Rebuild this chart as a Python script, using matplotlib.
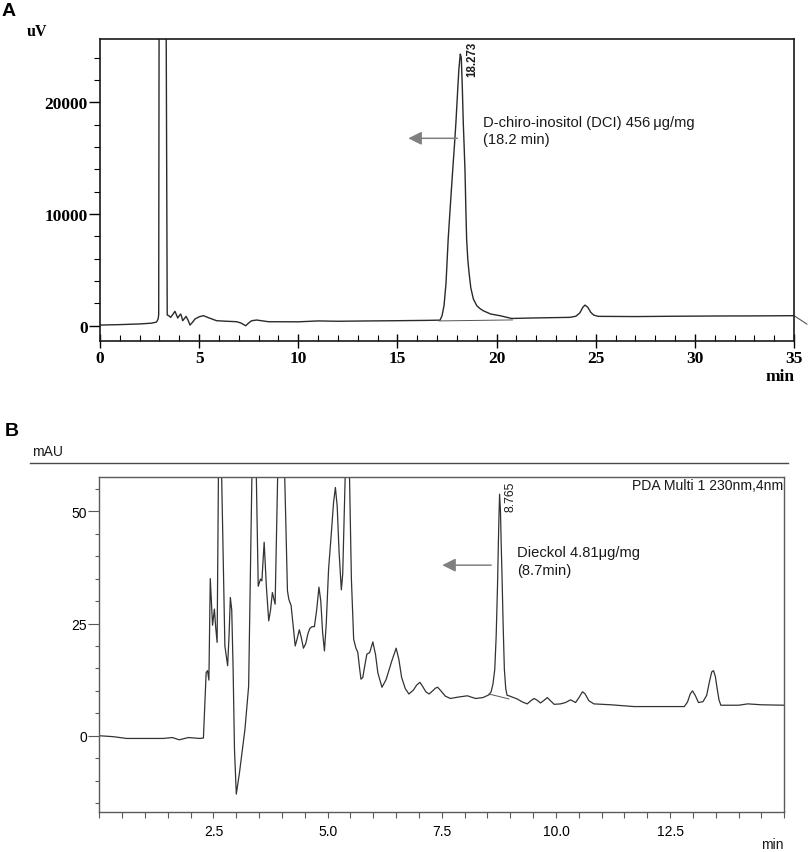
import matplotlib
matplotlib.use("Agg")
import matplotlib.pyplot as plt
from matplotlib.ticker import MultipleLocator

# ---------------- Panel A data (time in min, signal in uV) ----------------
a_time = [0.0, 1.0, 2.0, 2.6, 2.85, 2.93, 2.96, 2.99, 3.31, 3.39, 3.47, 3.56,
          3.67, 3.78, 3.85, 3.92, 4.0, 4.07, 4.12, 4.17, 4.26, 4.34, 4.44,
          4.54, 4.66, 4.79, 5.0, 5.21, 5.5, 5.88, 6.4, 6.89, 7.1, 7.35,
          7.5, 7.65, 7.90, 8.49, 10.0, 11.0, 12.0, 13.0, 15.0, 16.5, 17.15,
          17.25, 17.35, 17.45, 17.56, 17.67, 17.78, 17.87, 17.95, 18.03,
          18.10, 18.17, 18.22, 18.27, 18.32, 18.37, 18.41, 18.45, 18.49,
          18.55, 18.61, 18.70, 18.83, 19.0, 19.15, 19.33, 19.7, 20.17, 20.76,
          22.0, 23.7, 24.0, 24.2, 24.35, 24.46, 24.6, 24.75, 24.9, 25.13,
          27.0, 29.0, 31.0, 33.0, 35.0]
a_signal = [60, 100, 160, 230, 330, 600, 1000, 40000, 40000, 960, 900, 750,
            1000, 1290, 1000, 690, 900, 1050, 800, 450, 650, 840, 500,
            60, 300, 600, 800, 900, 700, 450, 400, 360, 250, 0,
            250, 450, 510, 360, 350, 430, 400, 420, 450, 480, 500,
            900, 1800, 3800, 7760, 10800, 13730, 16000, 18200, 20800,
            23000, 24320, 24000, 21500, 18200, 15800, 13730, 10500, 7760,
            5900, 4780, 3400, 2390, 1800, 1550, 1340, 1050, 900, 650,
            700, 750, 850, 1150, 1650, 1850, 1650, 1200, 950, 840,
            820, 850, 870, 880, 900]
a_tail_time = [35.0, 35.65]
a_tail_signal = [900, 150]
a_base_time = [17.1, 20.8]
a_base_signal = [430, 520]
a_xticks = [0, 5, 10, 15, 20, 25, 30, 35]
a_yticks = [0, 10000, 20000]
a_peak_label = "18.273"

# ---------------- Panel B data (time in min, absorbance in mAU) ----------------
b_time = [0.0, 0.3, 0.6, 1.0, 1.4, 1.6, 1.75, 1.95, 2.2, 2.28, 2.34, 2.37,
          2.40, 2.43, 2.48, 2.52, 2.55, 2.58, 2.61, 2.675, 2.75, 2.81, 2.84,
          2.87, 2.90, 2.93, 2.96, 3.00, 3.07, 3.19, 3.27, 3.345, 3.435, 3.48,
          3.53, 3.56, 3.61, 3.66, 3.71, 3.75, 3.79, 3.85, 3.91, 4.055, 4.12,
          4.15, 4.20, 4.24, 4.29, 4.33, 4.38, 4.42, 4.47, 4.52, 4.57, 4.61,
          4.66, 4.71, 4.76, 4.81, 4.85, 4.89, 4.93, 4.97, 5.02, 5.08, 5.13,
          5.17, 5.21, 5.25, 5.30, 5.33, 5.36, 5.39, 5.475, 5.52, 5.57, 5.62,
          5.66, 5.70, 5.73, 5.77, 5.82, 5.86, 5.92, 5.99, 6.05, 6.10, 6.19,
          6.28, 6.40, 6.50, 6.56, 6.62, 6.70, 6.78, 6.88, 6.95, 7.02, 7.08,
          7.15, 7.22, 7.30, 7.36, 7.41, 7.48, 7.58, 7.69, 7.85, 8.06, 8.15,
          8.24, 8.40, 8.53, 8.58, 8.62, 8.66, 8.69, 8.72, 8.745, 8.765, 8.785,
          8.80, 8.82, 8.845, 8.87, 8.90, 8.93, 8.97, 9.15, 9.27, 9.37, 9.45,
          9.52, 9.59, 9.66, 9.74, 9.81, 9.88, 9.96, 10.1, 10.21, 10.32, 10.43,
          10.51, 10.58, 10.64, 10.72, 10.83, 11.2, 11.71, 12.3, 12.81, 12.88,
          12.94, 12.99, 13.05, 13.12, 13.22, 13.30, 13.36, 13.41, 13.45,
          13.49, 13.53, 13.57, 13.61, 14.0, 14.2, 14.5, 15.0]
b_signal = [0.0, -0.2, -0.6, -0.6, -0.6, -0.4, -0.9, -0.4, -0.6, -0.5, 14.1, 14.5,
            12.4, 35.0, 24.6, 28.2, 24.0, 20.8, 60, 60, 20.0, 15.6, 22.0,
            30.8, 28.0, 15.0, -3.0, -13.0, -8.2, 1.5, 11.0, 60, 60, 33.3,
            34.9, 34.5, 43.1, 33.0, 25.6, 28.0, 31.9, 29.3, 60, 60, 32.3,
            30.4, 29.0, 25.0, 20.0, 21.5, 23.6, 22.0, 19.5, 20.5, 22.8, 23.9,
            24.3, 24.3, 28.0, 33.1, 30.0, 23.0, 18.9, 25.0, 37.0, 45.0, 52.0,
            55.3, 51.0, 41.0, 32.5, 36.0, 48.0, 60, 60, 35.0, 21.5, 19.5,
            18.6, 15.0, 12.6, 13.0, 16.0, 18.2, 18.5, 20.9, 18.0, 14.0, 10.8,
            12.5, 16.5, 19.5, 17.0, 13.0, 10.5, 9.3, 10.2, 11.3, 11.9, 11.0,
            9.8, 9.3, 10.0, 10.6, 10.8, 10.0, 8.8, 8.3, 8.6, 8.9, 8.6,
            8.3, 8.5, 9.1, 9.8, 11.5, 14.8, 22.0, 33.4, 46.0, 53.8, 50.0,
            43.0, 35.0, 24.0, 14.8, 10.5, 9.0, 8.9, 8.2, 7.5, 7.1, 7.8,
            8.3, 7.9, 7.3, 7.9, 8.5, 7.8, 7.0, 7.1, 7.4, 8.0, 7.4,
            8.6, 9.8, 9.3, 7.8, 7.1, 6.9, 6.5, 6.5, 6.5, 7.5,
            9.3, 10.0, 9.0, 7.4, 7.6, 9.0, 12.0, 14.2, 14.5,
            13.2, 10.5, 8.0, 6.8, 6.8, 7.1, 6.9, 6.8]
b_base_time = [8.53, 8.97]
b_base_signal = [9.3, 8.2]
b_xticks = [2.5, 5.0, 7.5, 10.0, 12.5, 15.0]
b_xticklabels = ["2.5", "5.0", "7.5", "10.0", "12.5", ""]
b_yticks = [0, 25, 50]
b_peak_label = "8.765"

W, H = 809, 853
fig = plt.figure(figsize=(W / 100, H / 100), dpi=100)
fig.patch.set_facecolor("white")

serif_bold = dict(family="Liberation Serif", weight="bold")
sans = dict(family="Liberation Sans")

# ---------------- Panel A ----------------
axA = fig.add_axes([100 / W, 1 - 341.7 / H, 694 / W, 301.7 / H])
axA.plot(a_time, a_signal, color="#2a2a2a", lw=1.0)
axA.plot(a_tail_time, a_tail_signal, color="#555555", lw=0.8, clip_on=False)
axA.plot(a_base_time, a_base_signal, color="#555555", lw=0.7)
axA.set_xlim(0, 35)
axA.set_ylim(-1340, 25670)
for s in axA.spines.values():
    s.set_color("#1a1a1a")
    s.set_linewidth(1.2)
axA.set_xticks(a_xticks)
axA.set_xticklabels([str(v) for v in a_xticks], fontsize=12.5, **serif_bold)
axA.xaxis.set_minor_locator(MultipleLocator(1))
axA.set_yticks(a_yticks)
axA.set_yticklabels([str(v) for v in a_yticks], fontsize=12.5, **serif_bold)
axA.yaxis.set_minor_locator(MultipleLocator(2000))
axA.tick_params(axis="x", which="major", direction="inout", length=10, width=1, pad=2)
axA.tick_params(axis="x", which="minor", direction="in", length=4, width=0.8)
axA.tick_params(axis="y", which="major", direction="out", length=8, width=1, pad=1)
axA.tick_params(axis="y", which="minor", direction="out", length=4, width=0.8)

axA.text(18.76, 25500, a_peak_label, rotation=90, ha="center", va="top",
         fontsize=8.3, family="Liberation Sans", weight="bold", color="#1a1a1a")
axA.text(19.33, 18210, "D-chiro-inositol (DCI) 456\u2009\u03bcg/mg", ha="left",
         va="center", fontsize=10.6, color="#1a1a1a", **sans)
axA.text(19.33, 16710, "(18.2 min)", ha="left", va="center", fontsize=10.6,
         color="#1a1a1a", **sans)
axA.annotate("", xy=(15.55, 16780), xytext=(18.02, 16780),
             arrowprops=dict(arrowstyle="-|>", color="#808080", lw=1.1,
                             mutation_scale=20, shrinkA=0, shrinkB=0))

fig.text(1.5 / W, 1 - 11.7 / H, "A", ha="left", va="center", fontsize=14,
         family="Liberation Sans", weight="bold")
fig.text(26.7 / W, 1 - 32 / H, "uV", ha="left", va="center", fontsize=11.5, **serif_bold)
fig.text(780 / W, 1 - 377 / H, "min", ha="center", va="center", fontsize=12.5, **serif_bold)

# ---------------- Panel B ----------------
axB = fig.add_axes([99.3 / W, 1 - 813.3 / H, 685 / W, 335.6 / H])
axB.plot(b_time, b_signal, color="#333333", lw=0.9)
axB.plot(b_base_time, b_base_signal, color="#555555", lw=0.7)
axB.set_xlim(0, 15)
axB.set_ylim(-17.05, 57.7)
for s in axB.spines.values():
    s.set_color("#5a5a5a")
    s.set_linewidth(1.0)
axB.set_xticks(b_xticks)
axB.set_xticklabels(b_xticklabels, fontsize=10, **sans)
axB.xaxis.set_minor_locator(MultipleLocator(0.5))
axB.set_yticks(b_yticks)
axB.set_yticklabels([str(v) for v in b_yticks], fontsize=10, **sans)
axB.yaxis.set_minor_locator(MultipleLocator(5))
axB.tick_params(axis="x", which="major", direction="out", length=4.5, width=0.8,
                color="#5a5a5a", pad=4)
axB.tick_params(axis="x", which="minor", direction="out", length=4, width=0.8,
                color="#5a5a5a")
axB.tick_params(axis="y", which="major", direction="out", length=8, width=0.8,
                color="#5a5a5a", pad=1)
axB.tick_params(axis="y", which="minor", direction="out", length=3, width=0.8,
                color="#5a5a5a")

axB.text(9.0, 56.9, b_peak_label, rotation=90, ha="center", va="top",
         fontsize=8.8, color="#1a1a1a", **sans)
axB.text(9.15, 40.85, "Dieckol 4.81\u03bcg/mg", ha="left", va="center",
         fontsize=10.6, color="#1a1a1a", **sans)
axB.text(9.15, 37.0, "(8.7min)", ha="left", va="center", fontsize=10.6,
         color="#1a1a1a", **sans)
axB.annotate("", xy=(7.51, 38.0), xytext=(8.58, 38.0),
             arrowprops=dict(arrowstyle="-|>", color="#808080", lw=1.1,
                             mutation_scale=20, shrinkA=0, shrinkB=0))

fig.text(783 / W, 1 - 485.7 / H, "PDA Multi 1 230nm,4nm", ha="right", va="center",
         fontsize=10.1, color="#1a1a1a", **sans)
fig.text(5 / W, 1 - 432 / H, "B", ha="left", va="center", fontsize=14,
         family="Liberation Sans", weight="bold")
fig.text(31.7 / W, 1 - 452 / H, "mAU", ha="left", va="center", fontsize=10,
         color="#1a1a1a", **sans)
fig.add_artist(plt.Line2D([30 / W, 788 / W], [1 - 463.7 / H, 1 - 463.7 / H],
                          color="#4a4a4a", lw=1.0, transform=fig.transFigure))
fig.text(772.5 / W, 1 - 845 / H, "min", ha="center", va="center", fontsize=10,
         color="#1a1a1a", **sans)

fig.savefig("out.png", dpi=100, facecolor="white")
